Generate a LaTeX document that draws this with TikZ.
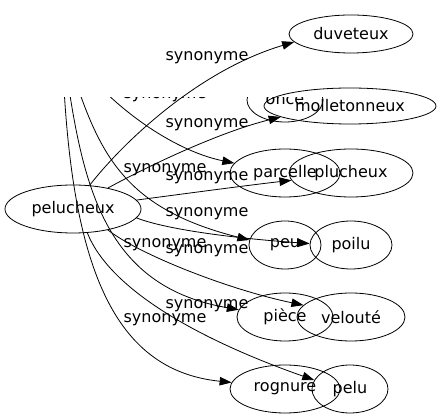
\documentclass[tikz,border=0pt]{standalone}
\usepackage{fontspec}
\setmainfont{DejaVu Sans}
\usetikzlibrary{shapes.geometric,arrows.meta}
\begin{document}
\begin{tikzpicture}[
        x=1pt, y=-1pt,
        every node/.style={font=\fontsize{16}{19}\selectfont},
        word/.style={draw, ellipse, inner sep=0pt, line width=0.8pt},
        rel/.style={inner sep=0pt},
        arc/.style={draw, line width=0.8pt, -{Triangle[length=12pt,width=8.5pt]}},
    ]
    \useasboundingbox (0,0) rectangle (442,419);

    % pelucheux and its synonyms
    \node[word, minimum width=136pt, minimum height=48pt] (pelucheux) at (73,209) {pelucheux};
    \node[word, minimum width=124pt, minimum height=38pt] (duveteux) at (351,34) {duveteux};
    \node[word, minimum width=172pt, minimum height=36pt] (molletonneux) at (350,106) {molletonneux};
    \node[word, minimum width=124pt, minimum height=48pt] (plucheux) at (351,173) {plucheux};
    \node[word, minimum width=82pt, minimum height=48pt] (poilu) at (351,245) {poilu};
    \node[word, minimum width=108pt, minimum height=48pt] (veloute) at (351,317) {velouté};
    \node[word, minimum width=76pt, minimum height=48pt] (pelu) at (350,389) {pelu};

    \draw[arc] (pelucheux.55) .. controls (125,140) and (200,70) .. (duveteux.188);
    \draw[arc] (pelucheux.31) .. controls (150,165) and (220,132) .. (molletonneux.189);
    \draw[arc] (pelucheux.8) .. controls (190,193) and (250,185) .. (plucheux.187);
    \draw[arc] (pelucheux.352) .. controls (165,229) and (230,238) .. (poilu.178);
    \draw[arc] (pelucheux.329) .. controls (140,255) and (230,290) .. (veloute.166);
    \draw[arc] (pelucheux.301) .. controls (110,290) and (200,340) .. (pelu.166);

    \node[rel] (s1) at (207,58) {synonyme};
    \node[rel] (s2) at (207,125) {synonyme};
    \node[rel] (s3) at (207,178) {synonyme};
    \node[rel] (s4) at (207,214) {synonyme};
    \node[rel] (s5) at (207,251) {synonyme};
    \node[rel] (s6) at (207,306) {synonyme};

    % second graph, cut off at the top
    \begin{scope}
    \clip (0,98) rectangle (442,419);
    \coordinate (bout) at (62,40);
    \node[word, minimum width=76pt, minimum height=44pt] (once) at (285,100) {once};
    \node[word, minimum width=110pt, minimum height=48pt] (parcelle) at (285,173) {parcelle};
    \node[word, minimum width=72pt, minimum height=48pt] (peu) at (285,245) {peu};
    \node[word, minimum width=96pt, minimum height=48pt] (piece) at (285,317) {pièce};
    \node[word, minimum width=110pt, minimum height=48pt] (rognure) at (285,389) {rognure};

    \draw[arc] (bout) .. controls (120,40) and (220,70) .. (once.160);
    \draw[arc] (bout) .. controls (100,100) and (170,150) .. (parcelle.169);
    \draw[arc] (bout) .. controls (95,140) and (110,205) .. (peu.172);
    \draw[arc] (bout) .. controls (80,170) and (95,285) .. (piece.171);
    \draw[arc] (bout) .. controls (68,260) and (110,370) .. (rognure.173);

    \node[rel] (t1) at (165,22) {synonyme};
    \node[rel] (t2) at (165,96) {synonyme};
    \node[rel] (t3) at (165,170) {synonyme};
    \node[rel] (t4) at (165,245) {synonyme};
    \node[rel] (t5) at (165,320) {synonyme};
    \end{scope}
\end{tikzpicture}
\end{document}
